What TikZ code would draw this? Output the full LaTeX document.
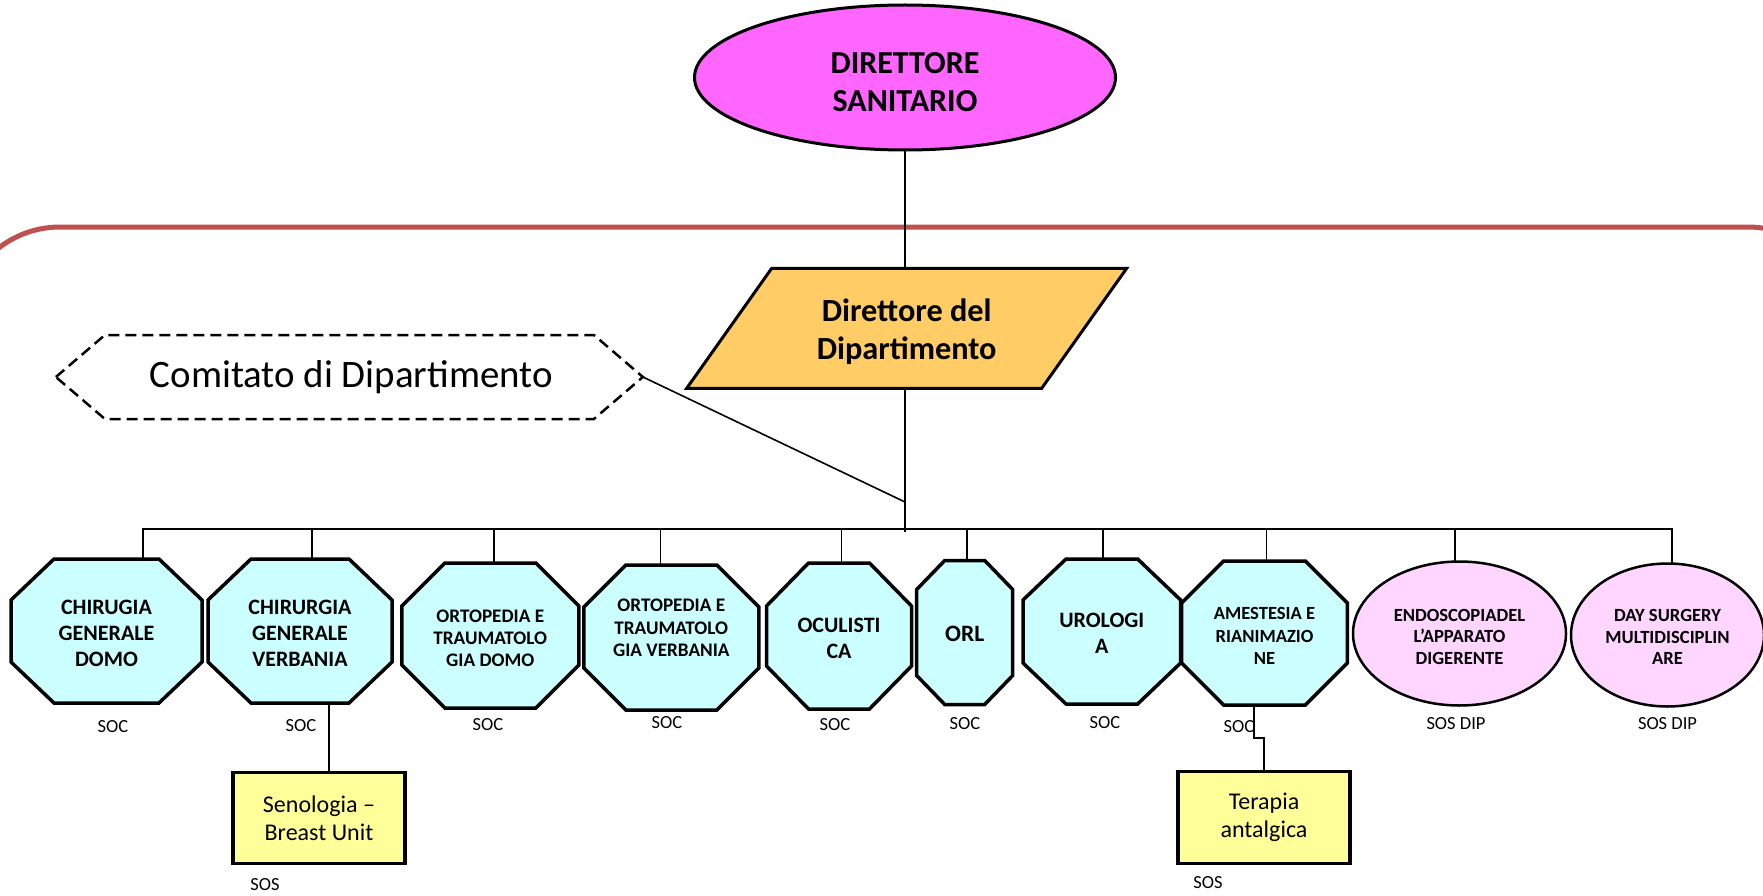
\documentclass[tikz,border=0pt]{standalone}
\usepackage{fontspec}
\setmainfont{Carlito}
\usetikzlibrary{calc,backgrounds,shapes.geometric}

\definecolor{dsfill}{RGB}{255,102,255}
\definecolor{dipfill}{RGB}{255,204,102}
\definecolor{socfill}{RGB}{204,255,255}
\definecolor{sosfill}{RGB}{255,214,255}
\definecolor{unitfill}{RGB}{255,255,153}
\definecolor{framered}{RGB}{192,80,77}

\tikzset{
  shapebox/.style={rectangle, inner sep=0pt, outer sep=0pt, align=center},
  txt/.style={inner sep=0pt, align=center},
  octline/.style={draw=black, line width=3.5pt, fill=socfill},
  hexline/.style={draw=black, line width=2.5pt, dash pattern=on 11pt off 6pt},
  dipline/.style={draw=black, line width=3pt, fill=dipfill},
  sosell/.style={ellipse, draw=black, line width=2.5pt, fill=sosfill,
    inner sep=0pt, outer sep=0pt},
  unitbox/.style={rectangle, draw=black, line width=3.5pt, fill=unitfill,
    inner sep=0pt, outer sep=0pt, align=center,
    font=\fontsize{24}{28}\selectfont},
  conn/.style={draw=black, line width=1.6pt},
  lab/.style={inner sep=0pt, font=\fontsize{18.5}{22}\selectfont},
  fBig/.style={font=\fontsize{22}{26}\selectfont\bfseries},
  fMid/.style={font=\fontsize{19.2}{22.3}\selectfont\bfseries},
  fSmall/.style={font=\fontsize{18.6}{21.8}\selectfont\bfseries},
}

% octagonal outline drawn on the frame of a named box: name, x-chamfer, y-chamfer
\newcommand\octshape[3]{%
  \path[octline] ($(#1.north west)+(#2,0)$) -- ($(#1.north east)+(-#2,0)$)
    -- ($(#1.north east)+(0,#3)$) -- ($(#1.south east)+(0,-#3)$)
    -- ($(#1.south east)+(-#2,0)$) -- ($(#1.south west)+(#2,0)$)
    -- ($(#1.south west)+(0,-#3)$) -- ($(#1.north west)+(0,#3)$) -- cycle;}

\begin{document}
\begin{tikzpicture}[x=1pt,y=-1pt]
\useasboundingbox (0,0) rectangle (1763,896);

% ---- top of the chart
\node[ellipse, draw=black, line width=3pt, fill=dsfill, inner sep=0pt, outer sep=0pt,
      minimum width=421pt, minimum height=145pt] (ds) at (905,77.5) {};
\node[txt, font=\fontsize{32}{38}\selectfont\bfseries] (dst)
      at ([yshift=-4.5pt]ds.center) {DIRETTORE\\SANITARIO};

\node[shapebox, minimum width=440pt, minimum height=120pt] (dip) at (906.7,328.3) {};
\node[txt, font=\fontsize{32.3}{38}\selectfont\bfseries] (dipt)
      at ([yshift=-3.4pt]dip.center) {Direttore del\\Dipartimento};

\node[shapebox, minimum width=587pt, minimum height=84pt] (com) at (349.4,377) {};
\node[txt, font=\fontsize{38.9}{46}\selectfont] (comt)
      at ([xshift=2pt]com.center) {Comitato di Dipartimento};

% ---- structures of the department
\node[shapebox, minimum width=191pt, minimum height=144pt] (o1) at (106.5,631) {};
\node[txt, fBig] (o1t) at ([yshift=-2.2pt]o1.center) {CHIRUGIA\\GENERALE\\DOMO};

\node[shapebox, minimum width=184pt, minimum height=144pt] (o2) at (300,631) {};
\node[txt, fBig] (o2t) at ([yshift=-2.2pt]o2.center) {CHIRURGIA\\GENERALE\\VERBANIA};

\node[shapebox, minimum width=177pt, minimum height=145pt] (o3) at (490.3,635.5) {};
\node[txt, fMid] (o3t) at ([yshift=-2.8pt]o3.center) {ORTOPEDIA E\\TRAUMATOLO\\GIA DOMO};

\node[shapebox, minimum width=175pt, minimum height=145pt] (o4) at (671.3,637.5) {};
\node[txt, fMid] (o4t) at ([yshift=9.5pt]o4.center) {ORTOPEDIA E\\TRAUMATOLO\\GIA VERBANIA};

\node[shapebox, minimum width=145pt, minimum height=146pt] (o5) at (839,636) {};
\node[txt, fBig] (o5t) at ([yshift=-2.8pt]o5.center) {OCULISTI\\CA};

\node[shapebox, minimum width=96pt, minimum height=144pt] (o6) at (964.7,632.5) {};
\node[txt, font=\fontsize{23.5}{27}\selectfont\bfseries] (o6t)
      at ([yshift=-1pt]o6.center) {ORL};

\node[shapebox, minimum width=157.6pt, minimum height=145pt] (o7) at (1101.8,631.5) {};
\node[txt, fBig] (o7t) at ([yshift=-1.7pt]o7.center) {UROLOGI\\A};

\node[shapebox, minimum width=165.7pt, minimum height=144pt] (o8) at (1264.5,633) {};
\node[txt, font=\fontsize{18.6}{22.5}\selectfont\bfseries] (o8t)
      at ([yshift=-3pt]o8.center) {AMESTESIA E\\RIANIMAZIO\\NE};

\node[sosell, minimum width=213pt, minimum height=144pt] (e1) at (1459.5,633.5) {};
\node[txt, fSmall] (e1t) at ([yshift=-3.4pt]e1.center) {ENDOSCOPIADEL\\L’APPARATO\\DIGERENTE};

\node[sosell, minimum width=193pt, minimum height=143pt] (e2) at (1667.5,635) {};
\node[txt, fSmall] (e2t) at ([yshift=-2pt]e2.center) {DAY SURGERY\\MULTIDISCIPLIN\\ARE};

% ---- simple units
\node[unitbox, minimum width=172pt, minimum height=91pt] (sen) at (319,818)
  {Senologia –\\Breast Unit};
\node[unitbox, minimum width=172pt, minimum height=92pt] (ter) at (1264,817.5)
  {Terapia\\antalgica};

% ---- type labels
\node[lab] (l1) at (113,727) {SOC};
\node[lab] (l2) at (301,726) {SOC};
\node[lab] (l3) at (488,725) {SOC};
\node[lab] (l4) at (667,722.7) {SOC};
\node[lab] (l5) at (835,725) {SOC};
\node[lab] (l6) at (965,724) {SOC};
\node[lab] (l7) at (1105,723) {SOC};
\node[lab] (l8) at (1239,726.7) {SOC};
\node[lab] (l9) at (1456,724) {SOS DIP};
\node[lab] (l10) at (1667.5,723.3) {SOS DIP};
\node[lab] (l11) at (265,885) {SOS};
\node[lab] (l12) at (1208,883) {SOS};

% ---- outlines behind the texts
\begin{scope}[on background layer]
  \begin{scope}
    \clip (0,0) rectangle (1763,896);
    \draw[framered, line width=5pt, rounded corners=100pt]
      (-40,227) rectangle (1848,1100);
  \end{scope}
  \path[dipline] ($(dip.north west)+(85,0)$) -- (dip.north east)
    -- ($(dip.south east)+(-85,0)$) -- (dip.south west) -- cycle;
  \path[hexline] (com.west) -- ($(com.north west)+(49,0)$)
    -- ($(com.north east)+(-49,0)$) -- (com.east)
    -- ($(com.south east)+(-49,0)$) -- ($(com.south west)+(49,0)$) -- cycle;
  \octshape{o1}{43}{41}
  \octshape{o2}{43}{41}
  \octshape{o3}{43}{43}
  \octshape{o4}{42}{42}
  \octshape{o5}{42}{43}
  \octshape{o6}{28}{29}
  \octshape{o7}{43}{41}
  \octshape{o8}{42}{42}
\end{scope}

% ---- connectors
\coordinate (t1) at (143,529);
\coordinate (t2) at (312,529);
\coordinate (t3) at (493.7,529);
\coordinate (t4) at (660.3,529);
\coordinate (t5) at (841.3,529);
\coordinate (t6) at (966.8,529);
\coordinate (t7) at (1102.7,529);
\coordinate (t8) at (1266.3,529);
\coordinate (t9) at (1455,529);
\coordinate (t10) at (1672,529);
\coordinate (j) at (905,502);
\coordinate (jb) at (905,532);

\draw[conn] (ds.south) -- (ds.south |- dip.north);
\draw[conn] (jb |- dip.south) -- (jb);
\draw[conn] (com.east) -- (j);

\draw[conn] (t1 |- o1.north) -- (t1) -- (t10) -- (t10 |- e2.north);
\draw[conn] (t2) -- (t2 |- o2.north);
\draw[conn] (t3) -- (t3 |- o3.north);
\draw[conn] (t4) -- (t4 |- o4.north);
\draw[conn] (t5) -- (t5 |- o5.north);
\draw[conn] (t6) -- (t6 |- o6.north);
\draw[conn] (t7) -- (t7 |- o7.north);
\draw[conn] (t8) -- (t8 |- o8.north);
\draw[conn] (t9) -- (t9 |- e1.north);

\draw[conn] ([xshift=10pt]sen.north) -- ([xshift=10pt]sen.north |- o2.south);
\draw[conn] ([xshift=-10.5pt]o8.south) -- ++(0,33) -| (ter.north);
\end{tikzpicture}
\end{document}
